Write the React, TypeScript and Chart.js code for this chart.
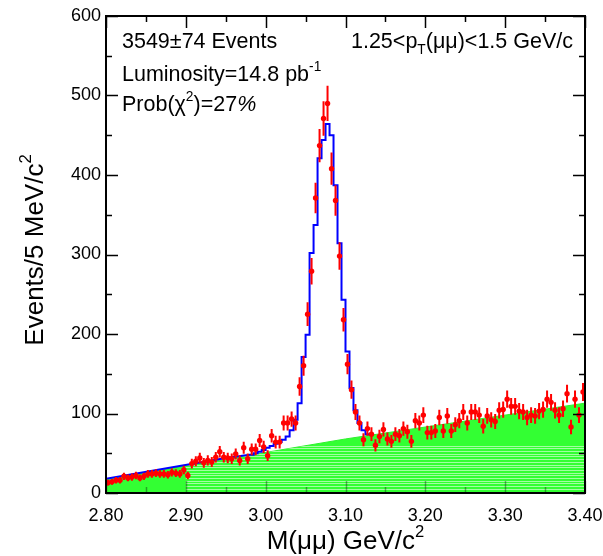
import React, { useEffect, useRef } from 'react';
import { Chart, registerables } from 'chart.js';

Chart.register(...registerables);

// Dimuon invariant-mass spectrum, 5 MeV bins from 2.80 to 3.40 GeV/c^2
const massMin = 2.8;
const massMax = 3.4;
const binWidth = 0.005;

const eventCounts = [
  13, 14, 16, 16, 21, 19, 20, 22, 19, 21,
  24, 24, 25, 24, 24, 23, 26, 25, 24, 29,
  22, 37, 40, 44, 38, 41, 39, 45, 52, 45,
  44, 43, 49, 41, 57, 43, 55, 55, 66, 58,
  47, 72, 64, 64, 88, 88, 93, 88, 134, 160,
  225, 279, 371, 437, 471, 490, 408, 368, 298, 218,
  162, 130, 102, 88, 67, 81, 74, 60, 71, 80,
  68, 65, 74, 72, 81, 77, 65, 91, 88, 98,
  76, 76, 78, 95, 78, 97, 78, 86, 91, 102,
  88, 102, 102, 98, 84, 97, 92, 90, 104, 105,
  118, 109, 109, 103, 102, 95, 98, 97, 103, 105,
  118, 114, 104, 98, 106, 125, 83, 118, 98, 127,
];

// Fit (signal + background), histogrammed around the peak
const fitLeftMass = [2.8, 2.95];
const fitLeftCounts = [18, 44];
const fitStartBin = 36;
const fitCounts = [
  48, 50, 52, 54, 57, 59, 62, 64, 67, 71,
  79, 92, 113, 171, 199, 302, 337, 421, 444, 464,
  450, 387, 314, 243, 178, 132, 104, 88, 79, 74,
];

// Background component
const bgMass = [2.8, 3.1, 3.4];
const bgCounts = [17, 68, 113];

const xTickValues = [2.8, 2.9, 3.0, 3.1, 3.2, 3.3, 3.4];
const xTickLabels = ['2.80', '2.90', '3.00', '3.10', '3.20', '3.30', '3.40'];
const yTickValues = [0, 100, 200, 300, 400, 500, 600];
const yTickLabels = ['0', '100', '200', '300', '400', '500', '600'];

const FONT = '"Liberation Sans", Arial, Helvetica, sans-serif';

type Seg = { t: string; sup?: boolean; sub?: boolean; italic?: boolean };

function segFont(size: number, s: Seg) {
  const sz = s.sup || s.sub ? size * 0.64 : size;
  return `${s.italic ? 'italic ' : ''}${sz}px ${FONT}`;
}

function drawRich(
  ctx: CanvasRenderingContext2D,
  segs: Seg[],
  x: number,
  y: number,
  size: number,
  align: 'left' | 'center' | 'right'
) {
  ctx.save();
  ctx.textBaseline = 'alphabetic';
  ctx.textAlign = 'left';
  let total = 0;
  const widths = segs.map((s) => {
    ctx.font = segFont(size, s);
    const w = ctx.measureText(s.t).width;
    total += w;
    return w;
  });
  let cx = align === 'left' ? x : align === 'center' ? x - total / 2 : x - total;
  segs.forEach((s, i) => {
    ctx.font = segFont(size, s);
    const dy = s.sup ? -size * 0.45 : s.sub ? size * 0.28 : 0;
    ctx.fillText(s.t, cx, y + dy);
    cx += widths[i];
  });
  ctx.restore();
}

const binCenter = (i: number) => massMin + (i + 0.5) * binWidth;
const binEdge = (i: number) => massMin + i * binWidth;

export default function App() {
  const canvasRef = useRef<HTMLCanvasElement | null>(null);

  useEffect(() => {
    const canvas = canvasRef.current;
    if (!canvas) return;

    const dataPoints = eventCounts.map((v, i) => ({ x: binCenter(i), y: v }));

    const fitPoints: { x: number; y: number }[] = fitLeftMass.map((m, i) => ({
      x: m,
      y: fitLeftCounts[i],
    }));
    fitCounts.forEach((v, k) => {
      const b = fitStartBin + k;
      fitPoints.push({ x: binEdge(b), y: v });
      fitPoints.push({ x: binEdge(b + 1), y: v });
    });

    const bgPoints = bgMass.map((m, i) => ({ x: m, y: bgCounts[i] }));

    const overlay = {
      id: 'overlay',
      beforeDatasetDraw(chart: any, args: any) {
        if (args.index !== 2) return;
        const { ctx, scales } = chart;
        const xs = scales.x;
        const ys = scales.y;
        ctx.save();
        ctx.strokeStyle = '#ff0000';
        ctx.lineWidth = 2;
        eventCounts.forEach((v, i) => {
          const err = Math.sqrt(v);
          const px = xs.getPixelForValue(binCenter(i));
          const py = ys.getPixelForValue(v);
          const top = ys.getPixelForValue(v + err);
          const bot = ys.getPixelForValue(Math.max(0, v - err));
          const l = xs.getPixelForValue(binEdge(i));
          const r = xs.getPixelForValue(binEdge(i + 1));
          ctx.beginPath();
          ctx.moveTo(px, top);
          ctx.lineTo(px, bot);
          ctx.moveTo(l, py);
          ctx.lineTo(r, py);
          ctx.stroke();
        });
        ctx.restore();
      },
      afterDatasetDraw(chart: any, args: any) {
        if (args.index !== 0) return;
        // light hatching in the lower part of the background fill
        const { ctx, scales, chartArea } = chart;
        const xs = scales.x;
        const ys = scales.y;
        ctx.save();
        ctx.beginPath();
        ctx.moveTo(xs.getPixelForValue(bgMass[0]), chartArea.bottom);
        bgMass.forEach((m, i) => ctx.lineTo(xs.getPixelForValue(m), ys.getPixelForValue(bgCounts[i])));
        ctx.lineTo(xs.getPixelForValue(bgMass[bgMass.length - 1]), chartArea.bottom);
        ctx.closePath();
        ctx.clip();
        const x0 = xs.getPixelForValue(2.9);
        const x1 = chartArea.right;
        const yTop = ys.getPixelForValue(60);
        ctx.strokeStyle = 'rgba(255,255,255,0.55)';
        ctx.lineWidth = 1;
        for (let y = chartArea.bottom - 1.5; y > yTop; y -= 2.7) {
          ctx.beginPath();
          ctx.moveTo(x0, Math.round(y) + 0.5);
          ctx.lineTo(x1, Math.round(y) + 0.5);
          ctx.stroke();
        }
        ctx.restore();
      },
      afterDraw(chart: any) {
        const { ctx, scales, chartArea } = chart;
        const xs = scales.x;
        const ys = scales.y;
        const { left, right, top, bottom } = chartArea;
        ctx.save();

        // tick marks on all four sides
        const major = 12;
        const minor = 6;
        ctx.lineWidth = 1.5;
        const xTicks: [number, number][] = [];
        xTickValues.forEach((v, i) => {
          xTicks.push([v, major]);
          if (i < xTickValues.length - 1) xTicks.push([(v + xTickValues[i + 1]) / 2, minor]);
        });
        xTicks.forEach(([v, len]) => {
          const px = Math.round(xs.getPixelForValue(v)) + 0.5;
          ctx.strokeStyle = 'rgba(0,0,0,0.35)';
          ctx.beginPath();
          ctx.moveTo(px, bottom);
          ctx.lineTo(px, bottom - len);
          ctx.stroke();
          ctx.strokeStyle = '#000';
          ctx.beginPath();
          ctx.moveTo(px, top);
          ctx.lineTo(px, top + len);
          ctx.stroke();
        });
        const yTicks: [number, number][] = [];
        yTickValues.forEach((v, i) => {
          yTicks.push([v, major]);
          if (i < yTickValues.length - 1) yTicks.push([(v + yTickValues[i + 1]) / 2, minor]);
        });
        ctx.strokeStyle = '#000';
        yTicks.forEach(([v, len]) => {
          const py = Math.round(ys.getPixelForValue(v)) + 0.5;
          ctx.beginPath();
          ctx.moveTo(left, py);
          ctx.lineTo(left + len, py);
          ctx.moveTo(right, py);
          ctx.lineTo(right - len, py);
          ctx.stroke();
        });

        // frame
        ctx.lineWidth = 2;
        ctx.strokeStyle = '#000';
        ctx.strokeRect(left, top, right - left, bottom - top);

        ctx.fillStyle = '#000';

        // x tick labels
        ctx.font = `18px ${FONT}`;
        ctx.textAlign = 'center';
        ctx.textBaseline = 'alphabetic';
        xTickValues.forEach((v, i) => {
          ctx.fillText(xTickLabels[i], xs.getPixelForValue(v), 521);
        });

        // annotations
        const ts = 21.5;
        drawRich(ctx, [{ t: '3549±74 Events' }], 122, 48, ts, 'left');
        drawRich(
          ctx,
          [{ t: '1.25<p' }, { t: 'T', sub: true }, { t: '(μμ)<1.5 GeV/c' }],
          573,
          48,
          ts,
          'right'
        );
        drawRich(ctx, [{ t: 'Luminosity=14.8 pb' }, { t: '-1', sup: true }], 122, 81, ts, 'left');
        drawRich(
          ctx,
          [{ t: 'Prob(χ' }, { t: '2', sup: true }, { t: ')=27' }, { t: '%', italic: true }],
          122,
          111,
          ts,
          'left'
        );

        // axis titles
        drawRich(ctx, [{ t: 'M(μμ) GeV/c' }, { t: '2', sup: true }], (left + right) / 2, 549, 26, 'center');
        ctx.save();
        ctx.translate(43, 250);
        ctx.rotate(-Math.PI / 2);
        drawRich(ctx, [{ t: 'Events/5 MeV/c' }, { t: '2', sup: true }], 0, 0, 26, 'center');
        ctx.restore();

        ctx.restore();
      },
    };

    const chart = new Chart(canvas, {
      type: 'line',
      data: {
        datasets: [
          {
            label: 'background',
            data: bgPoints,
            borderColor: '#2ef02e',
            borderWidth: 1,
            backgroundColor: '#33ff33',
            fill: 'origin',
            pointRadius: 0,
            tension: 0,
            order: 3,
          },
          {
            label: 'fit',
            data: fitPoints,
            borderColor: '#0000ff',
            borderWidth: 2,
            fill: false,
            pointRadius: 0,
            tension: 0,
            order: 2,
          },
          {
            label: 'data',
            data: dataPoints,
            showLine: false,
            pointRadius: 2.7,
            pointBackgroundColor: '#ff0000',
            pointBorderWidth: 0,
            borderColor: '#ff0000',
            order: 1,
          },
        ],
      },
      options: {
        responsive: false,
        animation: false,
        devicePixelRatio: 1,
        layout: { padding: { left: 0, right: 18, top: 16, bottom: 0 } },
        plugins: { legend: { display: false }, tooltip: { enabled: false } },
        scales: {
          x: {
            type: 'linear',
            min: massMin,
            max: massMax,
            grid: { display: false, drawTicks: false },
            border: { display: false },
            ticks: { display: false },
            afterBuildTicks: (axis: any) => {
              axis.ticks = xTickValues.map((v) => ({ value: v }));
            },
            afterFit: (axis: any) => {
              axis.height = 63;
            },
          },
          y: {
            type: 'linear',
            min: 0,
            max: 600,
            grid: { display: false, drawTicks: false },
            border: { display: false },
            ticks: {
              color: '#000',
              font: { family: FONT, size: 18 },
              padding: 5,
              autoSkip: false,
              callback: (v: any) => {
                const i = yTickValues.indexOf(Number(v));
                return i >= 0 ? yTickLabels[i] : '';
              },
            },
            afterBuildTicks: (axis: any) => {
              axis.ticks = yTickValues.map((v) => ({ value: v }));
            },
            afterFit: (axis: any) => {
              axis.width = 106;
            },
          },
        },
      },
      plugins: [overlay],
    });

    return () => chart.destroy();
  }, []);

  return (
    <div style={{ position: 'absolute', left: 0, top: 0, width: 603, height: 556, background: '#fff' }}>
      <canvas ref={canvasRef} width={603} height={556} style={{ width: 603, height: 556, display: 'block' }} />
    </div>
  );
}
